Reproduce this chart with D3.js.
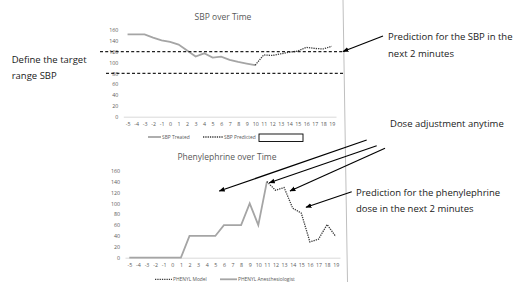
<!DOCTYPE html>
<html>
<head>
<meta charset="utf-8">
<script src="https://cdn.jsdelivr.net/npm/d3@7"></script>
<style>
  body { margin: 0; background: #fff; }
  svg text { font-family: "Open Sans", "Noto Sans", sans-serif; }
  .tick text { fill: #595959; font-size: 5.3px; }
</style>
</head>
<body>
<svg width="525" height="282"></svg>
<script>
var minutes = d3.range(-5, 20);
var yTicks = [0, 20, 40, 60, 80, 100, 120, 140, 160];
var targetRange = [80, 120];

// SBP chart
var sbpTreated = [152, 152, 152, 146, 141, 138, 133, 122, 111, 117, 109, 111, 105, 101, 98, 95];
var sbpPredicted = [95, 114, 113, 116, 119, 121, 128, 126, 125, 130];   // minute 10..19

// phenylephrine chart
var phenylAnest = [0, 0, 0, 0, 0, 0, 0, 40, 40, 40, 40, 60, 60, 60, 100, 60, 140]; // -5..11
var phenylModel = [140, 124, 129, 91, 82, 29, 34, 61, 39];                           // 11..19

var svg = d3.select("svg");

function drawChart(opt) {
    var x = d3.scalePoint().domain(minutes).range(opt.xr).padding(0.5);
    var y = d3.scaleLinear().domain([0, 160]).range(opt.yr);
    var g = svg.append("g");

    g.append("text")
        .attr("x", opt.titleX).attr("y", opt.titleY)
        .attr("text-anchor", "middle")
        .attr("fill", "#595959")
        .style("font-size", "8.5px")
        .text(opt.title);

    var xa = g.append("g")
        .attr("transform", "translate(0," + opt.yr[0] + ")")
        .call(d3.axisBottom(x).tickSize(0).tickPadding(6));
    xa.select(".domain").attr("stroke", "#d9d9d9");

    var ya = g.append("g")
        .attr("transform", "translate(" + (opt.xr[0] - 5) + ",0)")
        .call(d3.axisLeft(y).tickValues(yTicks).tickSize(0).tickPadding(0));
    ya.select(".domain").remove();

    var line = d3.line()
        .x(function(d) { return x(d[0]); })
        .y(function(d) { return y(d[1]); });

    opt.series.forEach(function(s) {
        var pts = s.values.map(function(v, i) { return [s.start + i, v]; });
        g.append("path")
            .datum(pts)
            .attr("fill", "none")
            .attr("stroke", s.color)
            .attr("stroke-width", s.width)
            .attr("stroke-dasharray", s.dash)
            .attr("d", line);
    });
    return { x: x, y: y };
}

var sbpChart = drawChart({
    title: "SBP over Time", titleX: 223, titleY: 20,
    xr: [123.3, 336], yr: [116.7, 30],
    series: [
        { values: sbpTreated, start: -5, color: "#a5a5a5", width: 1.8, dash: null },
        { values: sbpPredicted, start: 10, color: "#3a3a3a", width: 1.3, dash: "1.3,1" }
    ]
});

drawChart({
    title: "Phenylephrine over Time", titleX: 227, titleY: 160,
    xr: [125, 340], yr: [257.7, 170.7],
    series: [
        { values: phenylAnest, start: -5, color: "#a5a5a5", width: 1.8, dash: null },
        { values: phenylModel, start: 11, color: "#3a3a3a", width: 1.3, dash: "1.3,1" }
    ]
});

// target range lines
svg.selectAll(".target")
    .data(targetRange)
    .enter().append("line")
    .attr("x1", function(d) { return d == 120 ? 100 : 106; })
    .attr("x2", 345)
    .attr("y1", function(d) { return sbpChart.y(d); })
    .attr("y2", function(d) { return sbpChart.y(d); })
    .attr("stroke", "#222")
    .attr("stroke-width", 1.3)
    .attr("stroke-dasharray", "3,2.2");

// frame edge
svg.append("line")
    .attr("x1", 343).attr("y1", 0).attr("x2", 347.5).attr("y2", 282)
    .attr("stroke", "#bfbfbf").attr("stroke-width", 1);

// legends
function legendItem(x1, x2, y, dash, color, label) {
    svg.append("line")
        .attr("x1", x1).attr("x2", x2).attr("y1", y).attr("y2", y)
        .attr("stroke", color).attr("stroke-width", dash ? 1.3 : 1.8)
        .attr("stroke-dasharray", dash);
    svg.append("text")
        .attr("x", x2 + 1).attr("y", y + 1.8)
        .attr("fill", "#595959")
        .style("font-size", "4.9px")
        .text(label);
}
legendItem(148, 161, 137, null, "#a5a5a5", "SBP Treated");
legendItem(203, 223, 137, "1.3,1", "#3a3a3a", "SBP Predicted");
svg.append("rect")
    .attr("x", 259).attr("y", 134).attr("width", 44).attr("height", 7.5)
    .attr("fill", "#fff").attr("stroke", "#000").attr("stroke-width", 0.9);
legendItem(155, 172, 279.3, "1.3,1", "#3a3a3a", "PHENYL Model");
legendItem(220, 237, 279.3, null, "#a5a5a5", "PHENYL Anesthesiologist");

// annotations
svg.append("defs").append("marker")
    .attr("id", "arr")
    .attr("viewBox", "0 0 10 10")
    .attr("refX", 9).attr("refY", 5)
    .attr("markerWidth", 5).attr("markerHeight", 5)
    .attr("orient", "auto")
    .append("path").attr("d", "M0,1L10,5L0,9Z").attr("fill", "#000");

var arrows = [
    [383, 36, 343, 51.5],
    [366.7, 140, 219.3, 191],
    [376.7, 145.7, 269.3, 182.7],
    [385, 148.3, 290, 191],
    [351.7, 191.7, 306, 207.3]
];
svg.selectAll(".arrow")
    .data(arrows)
    .enter().append("line")
    .attr("x1", function(d) { return d[0]; })
    .attr("y1", function(d) { return d[1]; })
    .attr("x2", function(d) { return d[2]; })
    .attr("y2", function(d) { return d[3]; })
    .attr("stroke", "#000")
    .attr("stroke-width", 1.2)
    .attr("marker-end", "url(#arr)");

var notes = [
    [11.7, 62.7, "Define the target"],
    [11.7, 79, "range SBP"],
    [388, 40, "Prediction for the SBP in the"],
    [388, 57, "next 2 minutes"],
    [390, 127, "Dose adjustment anytime"],
    [356, 196, "Prediction for the phenylephrine"],
    [356, 212, "dose in the next 2 minutes"]
];
svg.selectAll(".note")
    .data(notes)
    .enter().append("text")
    .attr("x", function(d) { return d[0]; })
    .attr("y", function(d) { return d[1]; })
    .attr("fill", "#1a1a1a")
    .style("font-size", "9.5px")
    .text(function(d) { return d[2]; });
</script>
</body>
</html>
